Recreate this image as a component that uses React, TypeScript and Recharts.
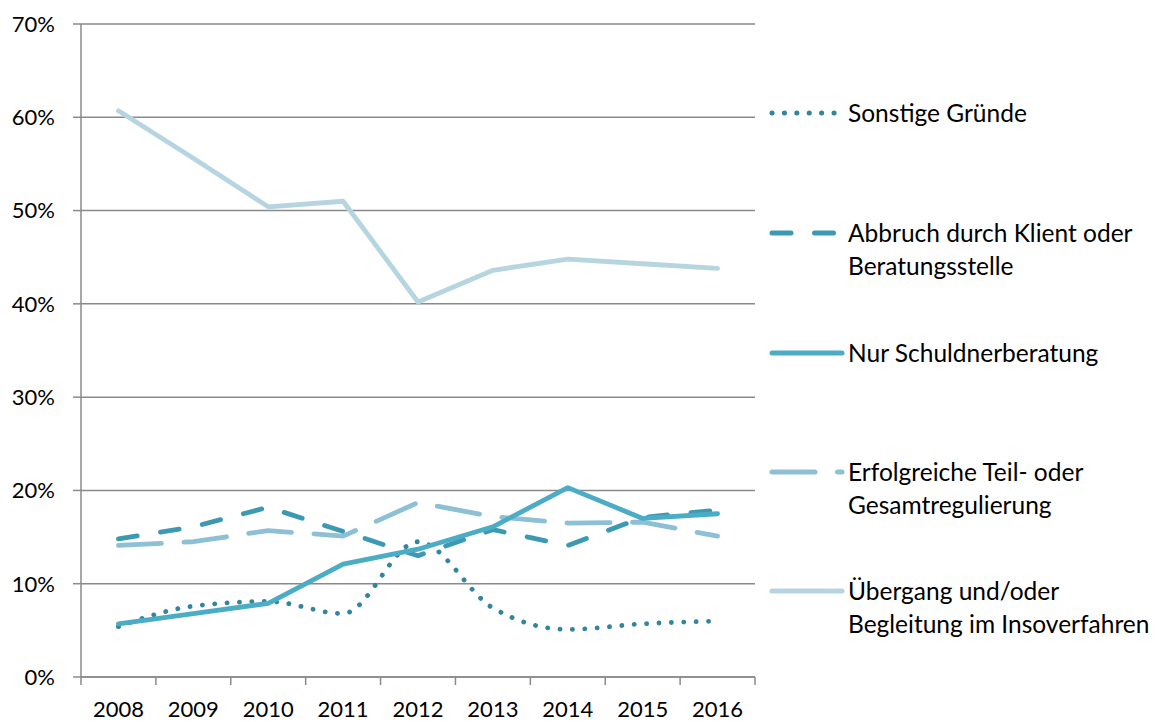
import React from 'react';
import { LineChart, Line, XAxis, YAxis, CartesianGrid } from 'recharts';

const years = ['2008', '2009', '2010', '2011', '2012', '2013', '2014', '2015', '2016'];
const sonstige = [5.4, 7.6, 8.1, 6.8, 14.5, 7.4, 5.1, 5.7, 6.0];
const abbruch = [14.8, 16.1, 18.2, 15.6, 13.0, 15.8, 14.1, 17.1, 17.9];
const nur = [5.7, 6.8, 7.9, 12.1, 13.7, 16.1, 20.3, 17.0, 17.5];
const erfolgreich = [14.1, 14.5, 15.7, 15.1, 18.7, 17.2, 16.5, 16.6, 15.1];
const uebergang = [60.7, 55.6, 50.4, 51.0, 40.2, 43.6, 44.8, 44.3, 43.8];
const yTicks = [0, 10, 20, 30, 40, 50, 60, 70];

const data = years.map((y, i) => ({
  year: y,
  sonstige: sonstige[i],
  abbruch: abbruch[i],
  nur: nur[i],
  erfolgreich: erfolgreich[i],
  uebergang: uebergang[i],
}));

const FONT = 'Lato, "Open Sans", sans-serif';
const AXIS = '#8a8a8a';

const series = [
  { key: 'sonstige', color: '#31859C', dash: '0.1 12.3', lines: ['Sonstige Gründe'], y: 113 },
  { key: 'abbruch', color: '#3B9AB2', dash: '19 23.5', lines: ['Abbruch durch Klient oder', 'Beratungsstelle'], y: 232.5 },
  { key: 'nur', color: '#4BACC6', dash: undefined, lines: ['Nur Schuldnerberatung'], y: 352.5 },
  { key: 'erfolgreich', color: '#8DC0D5', dash: '43 22.5', lines: ['Erfolgreiche Teil- oder', 'Gesamtregulierung'], y: 471.5 },
  { key: 'uebergang', color: '#B7D5E0', dash: undefined, lines: ['Übergang und/oder', 'Begleitung im Insoverfahren'], y: 591 },
];

const XTick = (props: any) => {
  const { x, y, payload, index, visibleTicksCount } = props;
  const off = payload && payload.offset ? payload.offset : 0;
  const isLast = index === visibleTicksCount - 1;
  return (
    <g>
      <line x1={x - off} x2={x - off} y1={y - 8} y2={y} stroke={AXIS} strokeWidth={1.5} />
      {isLast && <line x1={x + off} x2={x + off} y1={y - 8} y2={y} stroke={AXIS} strokeWidth={1.5} />}
      <text x={x} y={y + 32} textAnchor="middle" fill="#000" fontFamily={FONT} fontSize={22}>
        {payload.value}
      </text>
    </g>
  );
};

const drawOrder = ['uebergang', 'erfolgreich', 'abbruch', 'sonstige', 'nur'];

export default function App() {
  return (
    <div style={{ position: 'absolute', left: 0, top: 0, width: 1161, height: 722, background: '#fff' }}>
      <LineChart
        width={1161}
        height={722}
        data={data}
        margin={{ top: 24, right: 406, bottom: 0, left: 0 }}
      >
        <CartesianGrid vertical={false} stroke={AXIS} strokeWidth={1.5} />
        <XAxis
          dataKey="year"
          scale="band"
          height={45}
          tickSize={8}
          tickMargin={0}
          tickLine={false}
          axisLine={{ stroke: AXIS, strokeWidth: 1.5 }}
          tick={<XTick />}
          interval={0}
        />
        <YAxis
          width={81}
          domain={[0, 70]}
          ticks={yTicks}
          tickFormatter={(v: number) => `${v}%`}
          tickSize={8}
          tickMargin={18}
          axisLine={{ stroke: AXIS, strokeWidth: 1.5 }}
          tickLine={{ stroke: AXIS, strokeWidth: 1.5 }}
          tick={{ fill: '#000', fontFamily: FONT, fontSize: 22 }}
        />
        {drawOrder.map((k) => {
          const s = series.find((q) => q.key === k)!;
          return (
            <Line
              key={k}
              dataKey={k}
              type={k === 'sonstige' ? 'monotone' : 'linear'}
              stroke={s.color}
              strokeWidth={4.8}
              strokeDasharray={s.dash}
              strokeLinecap="round"
              strokeLinejoin="round"
              dot={false}
              activeDot={false}
              isAnimationActive={false}
            />
          );
        })}
      </LineChart>
      {series.map((s) => (
        <div key={s.key}>
          <svg
            width={90}
            height={20}
            style={{ position: 'absolute', left: 760, top: s.y - 10 }}
          >
            <line
              x1={12}
              x2={82}
              y1={10}
              y2={10}
              stroke={s.color}
              strokeWidth={5}
              strokeDasharray={s.dash}
              strokeLinecap="round"
            />
          </svg>
          <div
            style={{
              position: 'absolute',
              left: 848,
              top: s.y - 17,
              fontFamily: FONT,
              fontSize: 24.5,
              lineHeight: '33px',
              color: '#000',
              whiteSpace: 'nowrap',
            }}
          >
            {s.lines.map((l, i) => (
              <div key={i}>{l}</div>
            ))}
          </div>
        </div>
      ))}
    </div>
  );
}
